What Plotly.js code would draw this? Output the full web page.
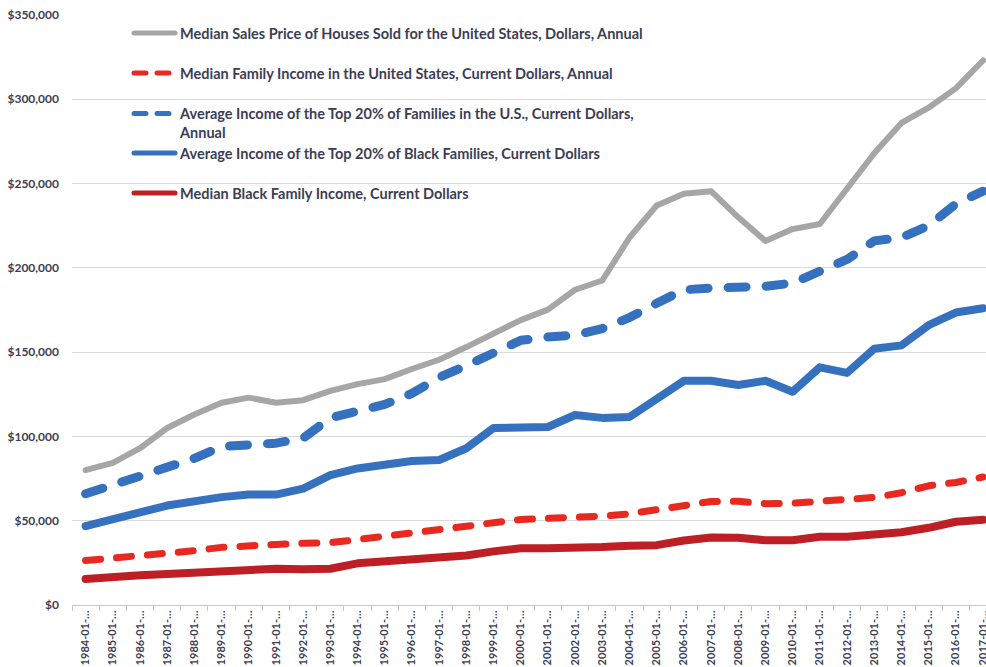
<!DOCTYPE html>
<html>
<head>
<meta charset="utf-8">
<script src="https://cdn.plot.ly/plotly-3.0.1.min.js"></script>
<style>
html,body{margin:0;padding:0;background:#fff;}
#chart{width:986px;height:667px;}
.scatterlayer .js-line{stroke-linecap:round;stroke-linejoin:round;}
.infolayer .js-line{stroke-linecap:round;stroke-width:5px !important;}
.legend2 .js-line, .legend3 .js-line{stroke-dasharray:12px,11px !important;}
</style>
</head>
<body>
<div id="chart"></div>
<script>
var categories = ["1984-01-01","1985-01-01","1986-01-01","1987-01-01","1988-01-01","1989-01-01","1990-01-01","1991-01-01","1992-01-01","1993-01-01","1994-01-01","1995-01-01","1996-01-01","1997-01-01","1998-01-01","1999-01-01","2000-01-01","2001-01-01","2002-01-01","2003-01-01","2004-01-01","2005-01-01","2006-01-01","2007-01-01","2008-01-01","2009-01-01","2010-01-01","2011-01-01","2012-01-01","2013-01-01","2014-01-01","2015-01-01","2016-01-01","2017-01-01"];
var tickLabels = ["1984-01-…","1985-01-…","1986-01-…","1987-01-…","1988-01-…","1989-01-…","1990-01-…","1991-01-…","1992-01-…","1993-01-…","1994-01-…","1995-01-…","1996-01-…","1997-01-…","1998-01-…","1999-01-…","2000-01-…","2001-01-…","2002-01-…","2003-01-…","2004-01-…","2005-01-…","2006-01-…","2007-01-…","2008-01-…","2009-01-…","2010-01-…","2011-01-…","2012-01-…","2013-01-…","2014-01-…","2015-01-…","2016-01-…","2017-01-…"];
var yTickValues = [0,50000,100000,150000,200000,250000,300000,350000];
var yTickLabels = ["$0","$50,000","$100,000","$150,000","$200,000","$250,000","$300,000","$350,000"];

var housePrice = [80000,84300,93000,105000,113000,120000,123000,120000,121500,127000,131000,134000,140000,145500,153000,161500,169000,175200,187000,192500,218000,237000,244000,245500,230000,216000,223000,226000,247000,268000,286000,295000,306500,323000];
var medianFamily = [26400,27700,29500,31000,32200,34200,35400,35900,36600,37000,38800,40600,42300,44600,46700,48800,50700,51400,51700,52700,54100,56200,58400,61400,61500,60100,60400,61500,62200,63800,66600,70700,72700,75900];
var top20All = [66000,71000,76000,81000,87000,94000,95500,96000,99000,111000,115000,119000,125500,135000,142000,150000,157000,159000,160000,164000,170500,179000,187000,188000,188000,189000,191000,198000,205000,216000,218000,225000,238000,245500];
var top20Black = [46800,50400,55000,59000,62000,64000,65500,65500,69000,77000,81000,83600,85400,86000,93000,105000,105500,105600,112700,111000,111500,121600,133000,133000,130500,133000,126500,141000,137700,152000,154000,166000,173500,176000];
var medianBlack = [15400,16800,17600,18400,19300,20200,21400,21500,21200,21500,24700,26000,26500,28600,29400,31800,33700,33600,33500,34400,35200,35500,38300,40100,39900,38400,38400,40500,40500,41400,43200,45800,49400,50600];

var seriesNames = [
  "Median Sales Price of Houses Sold for the United States, Dollars, Annual",
  "Median Family Income in the United States, Current Dollars, Annual",
  "Average Income of the Top 20% of Families in the U.S., Current Dollars,<br>Annual",
  "Average Income of the Top 20% of Black Families, Current Dollars",
  "Median Black Family Income, Current Dollars"
];

var txtColor = "#3d3d55";
var fontFam = "Lato, 'Open Sans', sans-serif";

var traces = [
  {x: categories, y: housePrice, name: seriesNames[0], legend: "legend",
   line: {color: "#a6a6a6", width: 6}},
  {x: categories, y: medianFamily, name: seriesNames[1], legend: "legend2",
   line: {color: "#e8291f", width: 7, dash: "15px,16px"}},
  {x: categories, y: top20All, name: seriesNames[2], legend: "legend3",
   line: {color: "#3571bf", width: 9, dash: "18px,20px"}},
  {x: categories, y: top20Black, name: seriesNames[3], legend: "legend4",
   line: {color: "#3571bf", width: 8}},
  {x: categories, y: medianBlack, name: seriesNames[4], legend: "legend5",
   line: {color: "#bd1f24", width: 8}}
];
traces.forEach(function(t){ t.type = "scatter"; t.mode = "lines"; t.hoverinfo = "skip"; });

function leg(ypx, valign){
  return {
    x: (129 - 72) / 914, xanchor: "left",
    y: (605 - ypx) / 590, yanchor: "middle",
    bgcolor: "rgba(0,0,0,0)", borderwidth: 0,
    font: {family: fontFam, size: 14.5, color: txtColor, weight: 700},
    itemwidth: 41, valign: valign || "middle", tracegroupgap: 0
  };
}

var layout = {
  width: 986, height: 667,
  margin: {l: 72, r: 0, t: 15, b: 62, pad: 0},
  paper_bgcolor: "#ffffff", plot_bgcolor: "#ffffff",
  showlegend: true,
  legend: leg(33),
  legend2: leg(73),
  legend3: leg(123, "top"),
  legend4: leg(153),
  legend5: leg(193),
  xaxis: {
    type: "category",
    range: [-0.5, 33.11],
    tickvals: categories, ticktext: tickLabels,
    tickangle: -90,
    tickfont: {family: fontFam, size: 11, color: txtColor, weight: 700},
    ticks: "outside", ticklen: 5, tickcolor: "#c8c8c8", tickson: "boundaries",
    showgrid: false, showline: true, linecolor: "#c8c8c8", linewidth: 1,
    zeroline: false, fixedrange: true
  },
  yaxis: {
    range: [0, 350000],
    tickvals: yTickValues, ticktext: yTickLabels,
    tickfont: {family: fontFam, size: 12, color: txtColor, weight: 700},
    ticklabelstandoff: 12,
    showgrid: true, gridcolor: "#d9d9d9", gridwidth: 1,
    showline: false, zeroline: false, ticks: "", fixedrange: true
  }
};

Plotly.newPlot("chart", traces, layout, {displayModeBar: false, staticPlot: true});
</script>
</body>
</html>
